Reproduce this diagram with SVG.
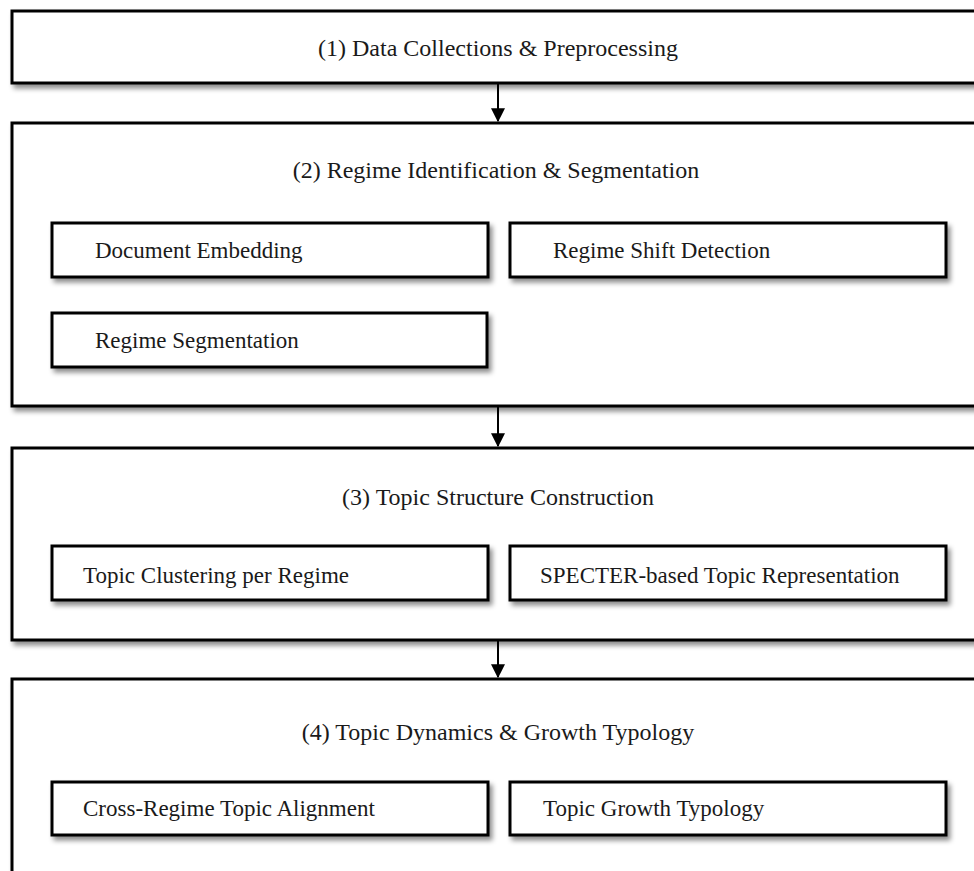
<svg xmlns="http://www.w3.org/2000/svg" width="974" height="871" viewBox="0 0 974 871">
<defs>
<filter id="sh" x="-5%" y="-20%" width="115%" height="160%">
<feDropShadow dx="3" dy="4" stdDeviation="2.5" flood-color="#000" flood-opacity="0.45"/>
</filter>
<marker id="ah" markerWidth="14" markerHeight="14" refX="11" refY="6" orient="auto" markerUnits="userSpaceOnUse" viewBox="0 0 12 12">
<path d="M0,0 L12,6 L0,12 Z" fill="#000"/>
</marker>
<style>
.stage{fill:#fff;stroke:#000;stroke-width:3;filter:url(#sh)}
.sub{fill:#fff;stroke:#000;stroke-width:3;filter:url(#sh)}
text{font-family:"Liberation Serif","Times New Roman",serif;font-size:23px;fill:#1a1a1a}
.t{text-anchor:middle;font-size:24px}
.conn{stroke:#000;stroke-width:2;fill:none}
</style>
</defs>
<g id="stage1"><rect class="stage" x="12" y="11" width="980" height="72"/><text class="t" x="498" y="56">(1) Data Collections &amp; Preprocessing</text></g>
<g id="stage2"><rect class="stage" x="12" y="123" width="980" height="283"/><text class="t" x="496" y="178">(2) Regime Identification &amp; Segmentation</text></g>
<g id="docemb"><rect class="sub" x="52" y="223" width="436" height="54"/><text x="95" y="258">Document Embedding</text></g>
<g id="shift"><rect class="sub" x="510" y="223" width="436" height="54"/><text x="553" y="258">Regime Shift Detection</text></g>
<g id="seg"><rect class="sub" x="52" y="313" width="435" height="54"/><text x="95" y="348">Regime Segmentation</text></g>
<g id="stage3"><rect class="stage" x="12" y="448" width="980" height="192"/><text class="t" x="498" y="505">(3) Topic Structure Construction</text></g>
<g id="clust"><rect class="sub" x="52" y="546" width="436" height="54"/><text x="83" y="583">Topic Clustering per Regime</text></g>
<g id="specter"><rect class="sub" x="510" y="546" width="436" height="54"/><text x="540" y="583">SPECTER-based Topic Representation</text></g>
<g id="stage4"><rect class="stage" x="12" y="679" width="980" height="220"/><text class="t" x="498" y="740">(4) Topic Dynamics &amp; Growth Typology</text></g>
<g id="align"><rect class="sub" x="52" y="782" width="436" height="53"/><text x="83" y="816">Cross-Regime Topic Alignment</text></g>
<g id="growth"><rect class="sub" x="510" y="782" width="436" height="53"/><text x="543" y="816">Topic Growth Typology</text></g>
<g id="connectors">
<line class="conn" x1="498" y1="84" x2="498" y2="121" marker-end="url(#ah)"/>
<line class="conn" x1="498" y1="407" x2="498" y2="446" marker-end="url(#ah)"/>
<line class="conn" x1="498" y1="641" x2="498" y2="677" marker-end="url(#ah)"/>
</g>
</svg>
